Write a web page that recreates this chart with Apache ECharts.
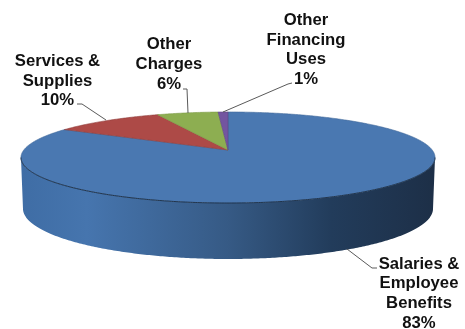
<!DOCTYPE html>
<html>
<head>
<meta charset="utf-8">
<style>html,body{margin:0;padding:0;background:#fff}#c{width:465px;height:329px}</style>
<script src="https://cdn.jsdelivr.net/npm/echarts@6/dist/echarts.min.js"></script>
</head>
<body>
<div id="c"></div>
<script>
const categories = ['Salaries &\nEmployee\nBenefits', 'Services &\nSupplies', 'Other\nCharges', 'Other\nFinancing\nUses'];
const values = [83.3, 10.2, 5.6, 0.9];
const colors = ['#4a78b1', '#ad4a47', '#8dae51', '#7355a0'];
const edgeColors = ['#43699b', '#8f3d3b', '#7c9a47', '#5f4785'];
const labelCenters = [[419, 293.5], [57.5, 81], [169, 64.5], [306, 50]];
const leaderLines = [
  [[377, 268], [372, 268], [347, 249]],
  [[77, 104], [82, 104], [106, 120]],
  [[183, 89], [187, 89], [188, 113]],
  [[292, 83], [288, 84], [223, 112]]
];

const k = 0.165;
const top3d = { cx: 228, cy: 150, R: 204.2, S: 44.3 };
const bottom3d = { cx: 228, cy: 200.3, R: 202.2, S: 49 };
const total = values.reduce((a, b) => a + b, 0);
const sideFrom = Math.PI * 99.5 / 180, sideTo = Math.PI * 260.5 / 180;

function project(p, t) {
  const u = Math.sin(t), v = Math.cos(t), w = 1 + k * v;
  return [p.cx + p.R * u / w, p.cy - p.S * v / w];
}
function arc(p, a, b) {
  const n = Math.max(2, Math.ceil((b - a) / 0.01)), out = [];
  for (let i = 0; i <= n; i++) out.push(project(p, a + (b - a) * i / n));
  return out;
}
function renderItem(params, api) {
  const i = params.dataIndex, val = api.value(1);
  let before = 0;
  for (let j = 0; j < i; j++) before += values[j];
  const a = before / total * Math.PI * 2, b = a + val / total * Math.PI * 2;
  const children = [];
  const sa = Math.max(a, sideFrom), sb = Math.min(b, sideTo);
  if (sb > sa) {
    const upper = arc(top3d, sa, sb), lower = arc(bottom3d, sa, sb).reverse();
    children.push({
      type: 'polygon', z2: 1, shape: { points: upper.concat(lower) },
      style: {
        fill: new echarts.graphic.LinearGradient(0, 0, 1, 0, [
          { offset: 0, color: '#3f6da5' }, { offset: 0.16, color: '#4675ae' },
          { offset: 0.5, color: '#365a85' }, { offset: 0.75, color: '#223c5b' },
          { offset: 1, color: '#1d2f47' }
        ])
      }
    });
    children.push({ type: 'polyline', z2: 3, shape: { points: upper }, style: { stroke: '#1b2c42', lineWidth: 0.9, fill: null } });
  }
  children.push({
    type: 'polygon', z2: 2,
    shape: { points: [[top3d.cx, top3d.cy]].concat(arc(top3d, a, b)) },
    style: { fill: colors[i], stroke: edgeColors[i], lineWidth: 0.6 }
  });
  children.push({ type: 'polyline', z2: 4, shape: { points: leaderLines[i] }, style: { stroke: '#5a5a5a', lineWidth: 1, fill: null } });
  children.push({
    type: 'text', z2: 5,
    style: {
      x: labelCenters[i][0], y: labelCenters[i][1],
      text: categories[i] + '\n' + Math.round(val) + '%',
      font: 'bold 16.7px "Liberation Sans", Arial, sans-serif',
      lineHeight: 19.7, align: 'center', verticalAlign: 'middle', fill: '#111',
      shadowBlur: 1, shadowColor: 'rgba(0,0,0,0.35)'
    }
  });
  return { type: 'group', children };
}
const chart = echarts.init(document.getElementById('c'), null, { renderer: 'canvas' });
chart.setOption({
  animation: false,
  backgroundColor: '#fff',
  series: [{
    type: 'custom', coordinateSystem: 'none', silent: true,
    renderItem,
    data: values.map((v, i) => [i, v])
  }]
});
</script>
</body>
</html>
